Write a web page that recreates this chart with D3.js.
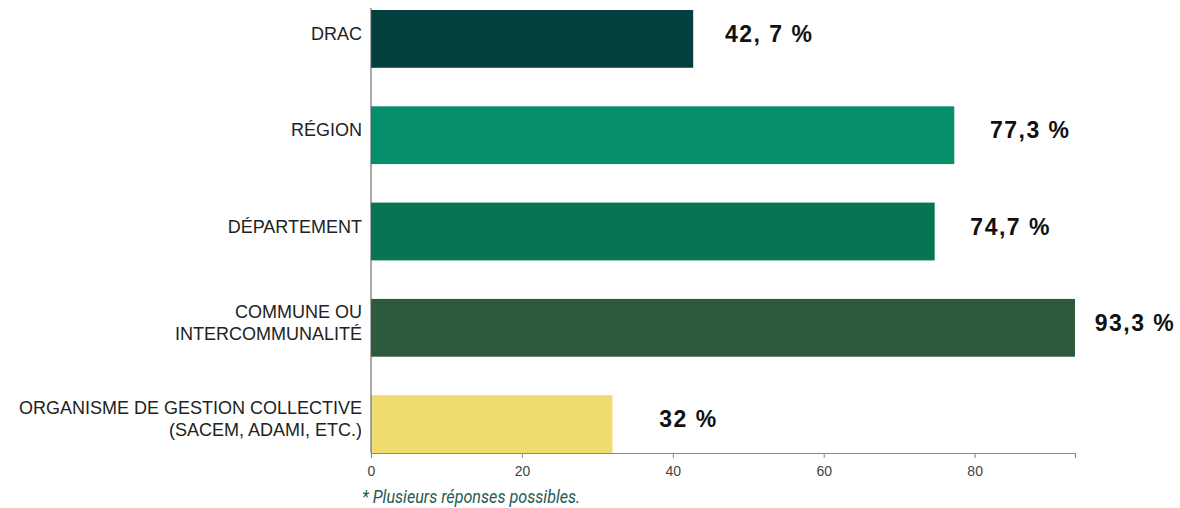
<!DOCTYPE html>
<html>
<head>
<meta charset="utf-8">
<script src="https://cdn.jsdelivr.net/npm/d3@7"></script>
<style>
  body { margin: 0; background: #fff; }
  svg { display: block; }
</style>
</head>
<body>
<div id="chart"></div>
<script>
// data
var categories = [["DRAC"], ["RÉGION"], ["DÉPARTEMENT"], ["COMMUNE OU", "INTERCOMMUNALITÉ"], ["ORGANISME DE GESTION COLLECTIVE", "(SACEM, ADAMI, ETC.)"]];
var values = [42.7, 77.3, 74.7, 93.3, 32];
var valueLabels = ["42, 7 %", "77,3 %", "74,7 %", "93,3 %", "32 %"];
var barColors = ["#02403f", "#078f6b", "#077553", "#2d5a3c", "#f0dc6e"];
var tickValues = [0, 20, 40, 60, 80];
var footnote = "* Plusieurs réponses possibles.";

var width = 1180, height = 508;
var margin = {top: 10, right: 105, bottom: 55, left: 371};

var svg = d3.select("#chart").append("svg")
    .attr("width", width)
    .attr("height", height);

var x = d3.scaleLinear()
    .domain([0, d3.max(values)])
    .range([margin.left, width - margin.right]);

var y = d3.scaleBand()
    .domain(d3.range(values.length))
    .range([margin.top, height - margin.bottom])
    .paddingInner(0.4)
    .paddingOuter(0);

// bars
svg.selectAll(".bar")
    .data(values)
    .enter().append("rect")
    .attr("class", "bar")
    .attr("x", x(0))
    .attr("y", (d, i) => y(i))
    .attr("width", d => x(d) - x(0))
    .attr("height", y.bandwidth())
    .attr("fill", (d, i) => barColors[i]);

// x axis
var xAxis = svg.append("g")
    .attr("transform", "translate(0," + (height - margin.bottom) + ")")
    .call(d3.axisBottom(x).tickValues(tickValues).tickSize(5).tickPadding(8));
xAxis.select(".domain").attr("stroke", "#8a8a8a").attr("stroke-width", 1.2);
xAxis.selectAll(".tick line").attr("stroke", "#8a8a8a");
xAxis.selectAll(".tick text")
    .attr("fill", "#444")
    .style("font-family", "Liberation Sans, Arial, sans-serif")
    .style("font-size", "14px");

// y axis line
svg.append("line")
    .attr("x1", x(0)).attr("x2", x(0))
    .attr("y1", margin.top - 2).attr("y2", height - margin.bottom)
    .attr("stroke", "#555")
    .attr("stroke-width", 1);

// category labels
svg.selectAll(".cat")
    .data(categories)
    .enter().append("text")
    .attr("class", "cat")
    .attr("text-anchor", "end")
    .attr("fill", "#222")
    .style("font-family", "Liberation Sans, Arial, sans-serif")
    .style("font-size", "18px")
    .each(function(lines, i) {
        var cy = y(i) + y.bandwidth() / 2;
        var lh = 22;
        var startY = cy - (lines.length - 1) * lh / 2 - 5;
        d3.select(this).selectAll("tspan")
            .data(lines)
            .enter().append("tspan")
            .attr("x", x(0) - 9)
            .attr("y", (d, j) => startY + j * lh)
            .attr("dy", "0.35em")
            .text(d => d);
    });

// value labels
svg.selectAll(".val")
    .data(values)
    .enter().append("text")
    .attr("class", "val")
    .attr("x", d => Math.min(x(d) + 76, width - 45))
    .attr("y", (d, i) => y(i) + y.bandwidth() / 2 - 5)
    .attr("dy", "0.35em")
    .attr("text-anchor", "middle")
    .attr("fill", "#111")
    .style("font-family", "Liberation Sans, Arial, sans-serif")
    .style("font-weight", "bold")
    .style("font-size", "23px")
    .style("letter-spacing", "1.5px")
    .text((d, i) => valueLabels[i]);

// footnote
svg.append("text")
    .attr("x", x(0) - 9)
    .attr("y", height - 5)
    .attr("fill", "#1f5a55")
    .style("font-family", "Roboto, sans-serif")
    .style("font-style", "italic")
    .style("font-size", "19px")
    .attr("transform", "translate(" + ((x(0) - 9) * 0.15) + ",0) scale(0.85,1)")
    .text(footnote);
</script>
</body>
</html>
